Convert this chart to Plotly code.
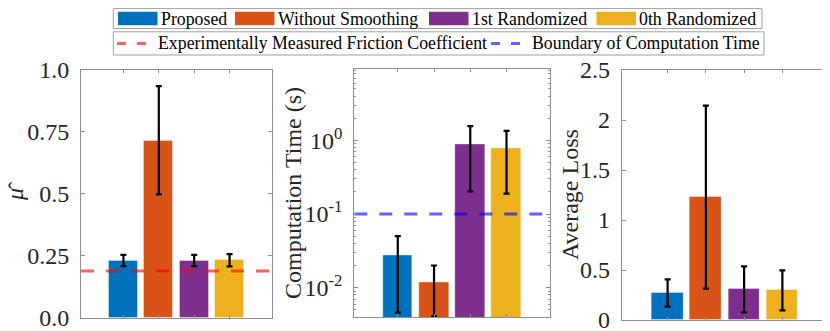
import math
import plotly.graph_objects as go

# ========== Data ==========
methods = ["Proposed", "Without Smoothing", "1st Randomized", "0th Randomized"]
colors = ["#0072BD", "#D95319", "#7E2F8E", "#EDB120"]

mu_mean = [0.230, 0.715, 0.230, 0.231]
mu_low = [0.208, 0.498, 0.208, 0.207]
mu_high = [0.254, 0.935, 0.254, 0.257]
mu_measured = 0.189

time_mean = [0.0275, 0.0118, 0.88, 0.77]
time_low = [0.0046, 0.0041, 0.203, 0.189]
time_high = [0.050, 0.020, 1.56, 1.35]
time_boundary = 0.1

loss_mean = [0.273, 1.233, 0.307, 0.300]
loss_low = [0.133, 0.313, 0.077, 0.097]
loss_high = [0.407, 2.143, 0.537, 0.497]

line_labels = ["Experimentally Measured Friction Coefficient", "Boundary of Computation Time"]
line_colors = ["rgba(255,0,0,0.62)", "rgba(0,0,255,0.62)"]

W, H = 830, 331
OFF = 8  # the page puts the figure 8px in from the top-left corner
FONT = "Liberation Serif"
AXCOL = "#8f8f8f"
TXT = "#262626"
xpos = [0, 1, 2, 3]


def px(x):
    return (x - OFF) / W


def py(y):
    return 1 - (y - OFF) / H


fig = go.Figure()


def add_bars(mean, low, high, xa, ya):
    fig.add_trace(go.Bar(
        x=xpos, y=mean, width=0.82, xaxis=xa, yaxis=ya,
        marker=dict(color=colors, line=dict(width=1, color="rgba(255,255,255,0.35)")),
        error_y=dict(type="data", symmetric=False,
                     array=[h - m for h, m in zip(high, mean)],
                     arrayminus=[m - l for m, l in zip(mean, low)],
                     color="black", thickness=2.2, width=3),
        showlegend=False,
    ))


add_bars(mu_mean, mu_low, mu_high, "x", "y")
add_bars(time_mean, time_low, time_high, "x2", "y2")
add_bars(loss_mean, loss_low, loss_high, "x3", "y3")

# horizontal reference lines
fig.add_trace(go.Scatter(x=[-1.2, 4.2], y=[mu_measured] * 2, xaxis="x", yaxis="y", mode="lines",
                         line=dict(color=line_colors[0], width=3, dash="13px,12px"), showlegend=False))
fig.add_trace(go.Scatter(x=[-1.2, 4.2], y=[time_boundary] * 2, xaxis="x2", yaxis="y2", mode="lines",
                         line=dict(color=line_colors[1], width=3, dash="13px,12px"), showlegend=False))

# ========== Axes ==========
panels = [
    # (x pixel left, right, y pixel top, bottom) in screen pixels
    (81, 272, 70, 317.7),
    (354.3, 550, 68.5, 317),
    (621.7, 828.3, 70, 320),
]

common_x = dict(range=[-1.2, 4.2], tickvals=xpos, showticklabels=False, ticks="inside", ticklen=3,
                tickcolor=AXCOL, showline=True, linecolor=AXCOL, linewidth=1, mirror="allticks",
                showgrid=False, zeroline=False, fixedrange=True, automargin=False)
common_y = dict(ticks="inside", ticklen=4, tickcolor=AXCOL, showline=True, linecolor=AXCOL, linewidth=1,
                mirror="allticks", showgrid=False, zeroline=False, fixedrange=True, automargin=False,
                tickfont=dict(family=FONT, size=24, color=TXT), ticklabelstandoff=6)

layout = {}
for i, (l, r, t, b) in enumerate(panels):
    sfx = "" if i == 0 else str(i + 1)
    layout["xaxis" + sfx] = dict(common_x, domain=[px(l), px(r)], anchor="y" + sfx)
    layout["yaxis" + sfx] = dict(common_y, domain=[py(b), py(t)], anchor="x" + sfx)

layout["yaxis"].update(range=[0, 1], tickvals=[0, 0.25, 0.5, 0.75, 1.0],
                       ticktext=["0.0", "0.25", "0.5", "0.75", "1.0"])
minor_vals = [m * 10 ** e for e in range(-3, 1) for m in range(2, 10)]
layout["yaxis2"].update(type="log", range=[math.log10(0.004), 0.976], tickvals=[0.01, 0.1, 1],
                        ticktext=["10<sup>-2</sup>", "10<sup>-1</sup>", "10<sup>0</sup>"],
                        minor=dict(ticks="inside", ticklen=2, tickcolor=AXCOL, tickvals=minor_vals))
layout["yaxis3"].update(range=[0, 2.5], tickvals=[0, 0.5, 1, 1.5, 2, 2.5],
                        ticktext=["0", "0.5", "1", "1.5", "2", "2.5"])

fig.update_layout(**layout)

# ========== Axis titles ==========
# mu-hat is built from an italic mu plus a separate circumflex above it
ann = []
for text, x, y in [("<i>μ</i>", 15, 195), ("ˆ", 16.5, 186),
                   ("Computation Time (s)", 293, 193), ("Average Loss", 570, 195)]:
    ann.append(dict(text=text, x=px(x), y=py(y), xref="paper", yref="paper", showarrow=False,
                    textangle=-90, font=dict(family=FONT, size=24, color=TXT),
                    xanchor="center", yanchor="middle"))

# ========== Legends (drawn as boxes) ==========
# top box squeezed a little: the page margin hides everything above y=8
shapes = [
    dict(type="rect", xref="paper", yref="paper", x0=px(113.3), x1=px(762), y0=py(28.5), y1=py(8.6),
         line=dict(color="#a0a0a0", width=1), fillcolor="white"),
    dict(type="rect", xref="paper", yref="paper", x0=px(113.3), x1=px(764), y0=py(55), y1=py(31.8),
         line=dict(color="#a0a0a0", width=1), fillcolor="white"),
]
patch_x = [118, 235, 429, 596.5]
text_x = [160, 277, 471, 638]
for name, col, x0, tx in zip(methods, colors, patch_x, text_x):
    shapes.append(dict(type="rect", xref="paper", yref="paper", x0=px(x0), x1=px(x0 + 39.5),
                       y0=py(25.3), y1=py(11.8), line=dict(width=0), fillcolor=col))
    ann.append(dict(text=name, x=px(tx), y=py(18.6), xref="paper", yref="paper", showarrow=False,
                    xanchor="left", yanchor="middle", borderpad=0,
                    font=dict(family=FONT, size=17.8, color="black")))

line_x = [117, 491]
line_tx = [157, 531]
for name, col, x0, tx in zip(line_labels, line_colors, line_x, line_tx):
    shapes.append(dict(type="line", xref="paper", yref="paper", x0=px(x0), x1=px(x0 + 30),
                       y0=py(43.4), y1=py(43.4), line=dict(color=col, width=3, dash="9px,11px")))
    ann.append(dict(text=name, x=px(tx), y=py(43.4), xref="paper", yref="paper", showarrow=False,
                    xanchor="left", yanchor="middle", borderpad=0,
                    font=dict(family=FONT, size=17.8, color="black")))

fig.update_layout(
    width=W, height=H,
    margin=dict(l=0, r=0, t=0, b=0),
    paper_bgcolor="white", plot_bgcolor="white",
    font=dict(family=FONT, color=TXT),
    bargap=0, showlegend=False,
    annotations=ann, shapes=shapes,
)

fig.write_html("out.html")
